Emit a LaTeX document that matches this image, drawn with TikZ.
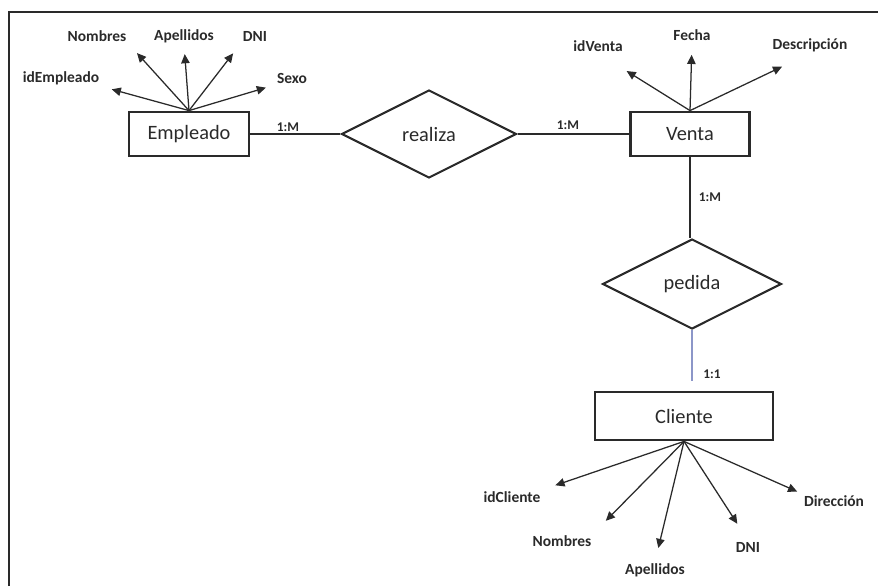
\documentclass[tikz,border=0pt]{standalone}
\usepackage{fontspec}
\setmainfont{Carlito}
\usetikzlibrary{shapes.geometric,arrows.meta}
\definecolor{ink}{HTML}{2A2A2A}
\definecolor{relblue}{HTML}{8C96C8}

\begin{document}
\begin{tikzpicture}[
    entity/.style={shape=rectangle,draw=ink,line width=2pt,minimum height=1.1cm,font=\fontsize{14.5}{16}\selectfont,text=ink},
    relation/.style={shape=diamond,draw=ink,line width=1.5pt,aspect=2,inner sep=0pt,font=\fontsize{14.5}{16}\selectfont,text=ink},
    attr/.style={inner sep=1pt,font=\fontsize{11}{13}\selectfont\bfseries,text=ink},
    card/.style={inner sep=1pt,font=\fontsize{9.5}{11}\selectfont\bfseries,text=ink},
    attrarrow/.style={-{Triangle[length=6.5pt,width=6pt]},color=ink,line width=0.9pt,shorten >=8pt},
    link/.style={color=ink,line width=1pt}
]
    \useasboundingbox (0,0) rectangle (21.95,14.65);
    \draw[ink,line width=1.4pt] (0.225,0) -- (0.225,14.35) -- (21.95,14.35);

    \node[entity,minimum width=3cm] (emp) at (4.725,11.3) {Empleado};
    \node[relation,minimum width=4.375cm,minimum height=2.2cm] (rea) at (10.725,11.3) {realiza};
    \node[entity,minimum width=2.975cm] (ven) at (17.25,11.3) {Venta};
    \node[relation,minimum width=4.475cm,minimum height=2.25cm] (ped) at (17.3,7.55) {pedida};
    \node[entity,minimum width=4.45cm,minimum height=1.2cm] (cli) at (17.1,4.25) {Cliente};

    \node[attr] (idEmp) at (1.525,12.7) {idEmpleado};
    \node[attr] (nomE) at (2.425,13.75) {Nombres};
    \node[attr] (apeE) at (4.6,13.75) {Apellidos};
    \node[attr] (dniE) at (6.375,13.75) {DNI};
    \node[attr] (sexo) at (7.3,12.7) {Sexo};

    \node[attr] (idVen) at (14.95,13.5) {idVenta};
    \node[attr] (fecha) at (17.3,13.775) {Fecha};
    \node[attr] (desc) at (20.25,13.525) {Descripción};

    \node[attr] (idCli) at (12.8,2.225) {idCliente};
    \node[attr] (nomC) at (14.05,1.125) {Nombres};
    \node[attr] (apeC) at (16.375,0.4) {Apellidos};
    \node[attr] (dniC) at (18.7,0.975) {DNI};
    \node[attr] (dir) at (20.85,2.125) {Dirección};

    \node[card] (c1) at (7.2,11.475) {1:M};
    \node[card] (c2) at (14.2,11.525) {1:M};
    \node[card] (c3) at (17.75,9.725) {1:M};
    \node[card] (c4) at (17.8,5.3) {1:1};

    \path [link] (emp) edge (rea);
    \path [link] (rea) edge (ven);
    \path [link] (ven.south) edge (ven.south |- ped.north);
    \path [color=relblue,line width=1pt] (ped.south) edge[shorten >=7pt] (ped.south |- cli.north);

    \path [attrarrow] (emp.north) edge (idEmp.south east);
    \path [attrarrow] (emp.north) edge[shorten >=9.5pt] (nomE.south east);
    \path [attrarrow] (emp.north) edge[shorten >=7pt] (apeE.south);
    \path [attrarrow] (emp.north) edge[shorten >=9.5pt] (dniE.south west);
    \path [attrarrow] (emp.north) edge[shorten >=7pt] (sexo.south west);

    \path [attrarrow] (ven.north) edge[shorten >=24pt] (idVen.south);
    \path [attrarrow] (ven.north) edge[shorten >=9pt] (fecha.south);
    \path [attrarrow] (ven.north) edge[shorten >=22pt] (desc.south);

    \path [attrarrow] (cli.south) edge[shorten >=10pt] (idCli.north east);
    \path [attrarrow] (cli.south) edge[shorten >=13pt] (nomC.north east);
    \path [attrarrow] (cli.south) edge[shorten >=10pt] (apeC.north);
    \path [attrarrow] (cli.south) edge[shorten >=14pt] (dniC.north);
    \path [attrarrow] (cli.south) edge[shorten >=4pt] (dir.north west);
\end{tikzpicture}
\end{document}
